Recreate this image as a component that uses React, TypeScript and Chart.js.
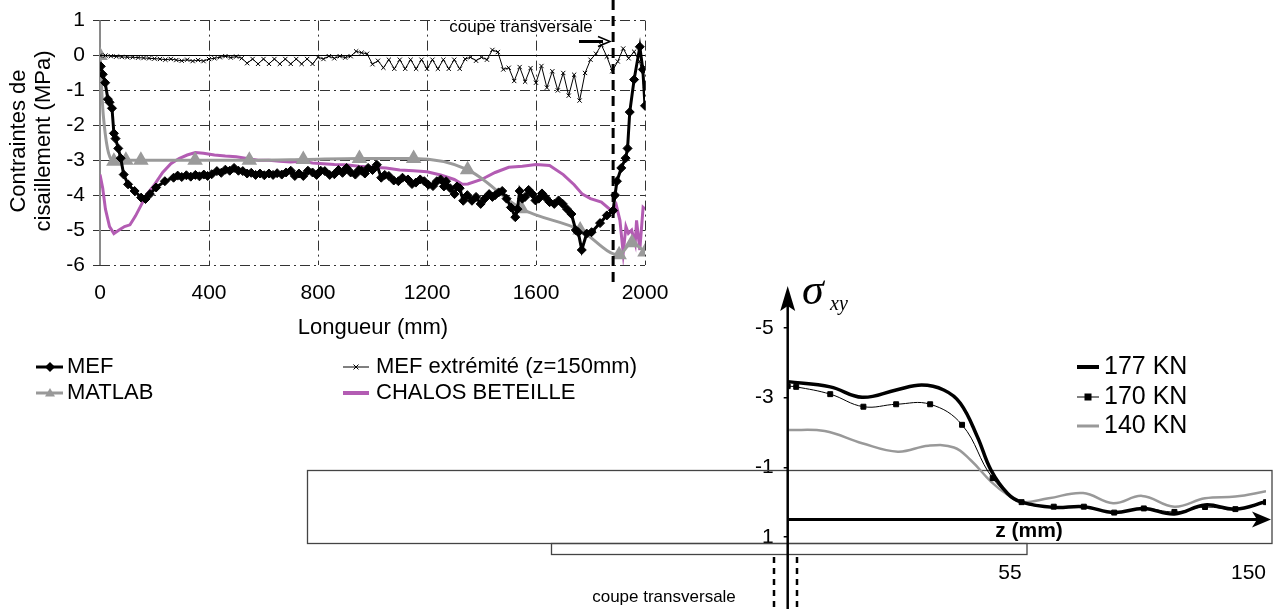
import React, { useEffect, useRef } from "react";
import { Chart, registerables, LinearScale } from "chart.js";

Chart.register(...registerables);

const W = 1274;
const H = 609;
const FONT = '"Liberation Sans", Arial, Helvetica, sans-serif';
const SERIF = '"Liberation Serif", "Times New Roman", serif';

// ---------- Chart 1 : contraintes de cisaillement le long de la poutre ----------
const lengthTicks = [0, 400, 800, 1200, 1600, 2000];
const stressTicks = [-6, -5, -4, -3, -2, -1, 0, 1];
const sectionCutX = 1883; // position of the "coupe transversale" (mm)

const mefX = [3, 10, 19, 29, 35, 44, 51, 57, 67, 76, 87, 103, 127, 151, 167, 183, 206, 238, 270, 285, 300, 317, 333, 350, 365, 381, 395, 410, 429, 445, 460, 476, 492, 508, 524, 540, 555, 571, 587, 603, 620, 635, 650, 667, 683, 700, 715, 730, 746, 763, 780, 795, 810, 825, 843, 860, 875, 890, 905, 920, 937, 950, 960, 972, 984, 1000, 1016, 1032, 1045, 1060, 1078, 1095, 1110, 1130, 1145, 1159, 1175, 1190, 1205, 1222, 1236, 1250, 1262, 1270, 1285, 1301, 1310, 1320, 1333, 1348, 1365, 1380, 1397, 1412, 1428, 1440, 1450, 1463, 1476, 1492, 1508, 1524, 1532, 1540, 1550, 1560, 1573, 1587, 1598, 1610, 1622, 1635, 1650, 1667, 1683, 1698, 1714, 1730, 1746, 1755, 1768, 1786, 1804, 1835, 1860, 1883, 1890, 1897, 1913, 1929, 1936, 1944, 1960, 1981, 1992, 2000];
const mefY = [-0.31, -0.54, -0.78, -1.25, -1.34, -1.51, -2.23, -2.38, -2.66, -2.94, -3.41, -3.69, -3.88, -4.07, -4.11, -3.97, -3.78, -3.6, -3.5, -3.44, -3.48, -3.43, -3.47, -3.42, -3.46, -3.41, -3.45, -3.4, -3.31, -3.36, -3.27, -3.3, -3.22, -3.3, -3.31, -3.38, -3.36, -3.42, -3.38, -3.43, -3.38, -3.42, -3.37, -3.41, -3.35, -3.3, -3.45, -3.38, -3.45, -3.3, -3.35, -3.42, -3.3, -3.31, -3.42, -3.4, -3.28, -3.36, -3.22, -3.35, -3.41, -3.28, -3.3, -3.38, -3.22, -3.28, -3.13, -3.5, -3.42, -3.45, -3.58, -3.6, -3.5, -3.55, -3.68, -3.64, -3.55, -3.6, -3.7, -3.74, -3.6, -3.55, -3.75, -3.6, -3.8, -3.97, -3.75, -3.8, -4.16, -4.0, -4.16, -4.05, -4.25, -4.1, -3.97, -4.05, -4.0, -3.92, -3.88, -4.1, -4.35, -4.63, -4.4, -3.88, -4.1, -4.05, -3.85, -3.97, -4.15, -4.1, -3.95, -4.07, -4.2, -4.25, -4.15, -4.25, -4.4, -4.54, -5.0, -5.06, -5.57, -5.1, -5.06, -4.8, -4.58, -4.44, -4.0, -3.6, -3.22, -2.94, -2.66, -1.62, -0.69, 0.25, -0.4, -1.44];

const extX = [0, 20, 40, 60, 80, 100, 120, 140, 160, 180, 200, 220, 240, 260, 280, 300, 320, 340, 360, 380, 400, 420, 440, 460, 480, 500, 520, 540, 560, 580, 600, 620, 640, 660, 680, 700, 720, 740, 760, 780, 800, 820, 840, 860, 880, 900, 920, 940, 960, 980, 1000, 1020, 1040, 1060, 1080, 1100, 1120, 1140, 1160, 1180, 1200, 1220, 1240, 1260, 1280, 1300, 1320, 1340, 1360, 1380, 1400, 1420, 1440, 1460, 1480, 1500, 1520, 1540, 1560, 1580, 1600, 1620, 1640, 1660, 1680, 1700, 1720, 1740, 1760, 1780, 1800, 1820, 1840, 1860, 1880, 1900, 1920, 1940, 1960, 1980, 2000];
const extY = [0, 0.0, -0.02, -0.03, -0.04, -0.05, -0.05, -0.06, -0.07, -0.08, -0.09, -0.1, -0.12, -0.1, -0.13, -0.15, -0.12, -0.16, -0.13, -0.16, -0.1, -0.08, -0.05, -0.02, -0.06, -0.03, -0.08, -0.22, -0.1, -0.24, -0.1, -0.24, -0.1, -0.24, -0.1, -0.24, -0.1, -0.24, -0.1, -0.24, -0.05, -0.1, -0.02, -0.08, -0.02, -0.06, -0.02, 0.12, 0.08, 0.05, -0.25, -0.15, -0.35, -0.12, -0.38, -0.12, -0.38, -0.12, -0.38, -0.12, -0.38, -0.12, -0.38, -0.12, -0.38, -0.12, -0.38, -0.1, -0.05, -0.15, -0.05, -0.12, 0.16, 0.1, -0.4, -0.35, -0.73, -0.33, -0.75, -0.36, -0.78, -0.3, -0.92, -0.45, -1.0, -0.5, -1.15, -0.55, -1.29, -0.5, -0.12, 0.05, 0.3, -0.03, -0.45, -0.17, 0.2, -0.08, 0.11, -0.17, -0.87];

const matlabX = [0, 12, 51, 95, 150, 349, 548, 746, 952, 1151, 1349, 1547, 1762, 1905, 1952, 2000];
const matlabY = [0, -1.7, -3.03, -3.0, -3.0, -3.0, -3.0, -2.98, -2.95, -2.95, -3.27, -4.39, -5.0, -5.71, -5.36, -5.63];
const matlabMarker = [1, 0, 1, 1, 1, 1, 1, 1, 1, 1, 1, 1, 1, 1, 1, 1];

const chalosX = [0, 10, 20, 35, 51, 70, 90, 110, 130, 150, 170, 200, 230, 260, 290, 320, 350, 380, 420, 460, 500, 540, 580, 620, 660, 700, 740, 780, 820, 860, 900, 950, 1000, 1050, 1100, 1150, 1200, 1250, 1300, 1330, 1350, 1400, 1450, 1500, 1550, 1600, 1650, 1700, 1740, 1770, 1800, 1840, 1870, 1883, 1895, 1908, 1920, 1930, 1939, 1951, 1964, 1969, 1981, 1993, 2000];
const chalosY = [-3.41, -3.8, -4.4, -4.9, -5.1, -5.0, -4.9, -4.85, -4.6, -4.3, -4.0, -3.7, -3.35, -3.1, -2.95, -2.85, -2.78, -2.8, -2.85, -2.88, -2.9, -2.95, -3.0, -3.0, -3.03, -3.05, -3.03, -3.08, -3.1, -3.12, -3.13, -3.17, -3.2, -3.22, -3.28, -3.3, -3.33, -3.42, -3.55, -3.69, -3.68, -3.55, -3.35, -3.2, -3.17, -3.12, -3.15, -3.41, -3.7, -3.97, -4.1, -4.2, -4.4, -4.53, -4.3, -4.72, -5.66, -4.9, -5.09, -5.0, -5.38, -4.72, -5.57, -4.35, -4.4];

// ---------- Chart 2 : sigma_xy le long de z ----------
const sigmaTicks = [-5, -3, -1, 1];
const zTicks = [55, 150];
const Z_BREAK = 55; // the z axis is drawn with a break in scale at 55 mm
const Z_BREAK_FRAC = 0.489;

const z177 = [0, 10, 17.5, 25.5, 31.5, 36.7, 40.6, 44.6, 47.8, 51.7, 55, 67.5, 79.2, 91, 102.5, 114.4, 126.3, 138.1, 150];
const s177 = [-3.46, -3.31, -3.01, -3.22, -3.36, -3.22, -2.84, -1.88, -0.92, -0.25, 0.0, 0.15, 0.13, 0.3, 0.18, 0.34, 0.08, 0.2, -0.01];

const z170 = [0, 2, 10, 17.8, 25.5, 33.5, 41, 48.2, 55, 67.5, 79.2, 91, 102.5, 114.4, 126.3, 138.1, 150];
const s170 = [-3.33, -3.31, -3.1, -2.74, -2.81, -2.81, -2.22, -0.69, 0.0, 0.13, 0.13, 0.3, 0.18, 0.28, 0.14, 0.2, 0.0];

const z140 = [0, 8.7, 17.5, 25.9, 33.1, 39.1, 43, 47.8, 51.7, 55, 65.5, 78.9, 90.6, 101.8, 114.4, 126.3, 138.1, 150];
const s140 = [-2.07, -2.04, -1.69, -1.45, -1.62, -1.57, -1.21, -0.59, -0.21, 0.0, -0.11, -0.26, 0.03, -0.18, 0.13, -0.11, -0.16, -0.31];

const pts = (xs: number[], ys: number[]) => xs.map((x, i) => ({ x, y: ys[i] }));

class BrokenLinearScale extends LinearScale {
  static id = "brokenLinear";
  static defaults = { ...(LinearScale as any).defaults };
  getPixelForValue(value: any) {
    if (value === null || value === undefined || isNaN(value)) return NaN;
    const min = (this as any).min;
    const max = (this as any).max;
    let f: number;
    if (value <= Z_BREAK) f = ((value - min) / (Z_BREAK - min)) * Z_BREAK_FRAC;
    else f = Z_BREAK_FRAC + ((value - Z_BREAK) / (max - Z_BREAK)) * (1 - Z_BREAK_FRAC);
    return (this as any).getPixelForDecimal(f);
  }
  getValueForPixel(pixel: number) {
    const f = (this as any).getDecimalForPixel(pixel);
    const min = (this as any).min;
    const max = (this as any).max;
    if (f <= Z_BREAK_FRAC) return min + (f / Z_BREAK_FRAC) * (Z_BREAK - min);
    return Z_BREAK + ((f - Z_BREAK_FRAC) / (1 - Z_BREAK_FRAC)) * (max - Z_BREAK);
  }
}
Chart.register(BrokenLinearScale as any);

function txt(ctx: CanvasRenderingContext2D, s: string, x: number, y: number, font: string, align: CanvasTextAlign = "left", color = "#000") {
  ctx.save();
  ctx.font = font;
  ctx.fillStyle = color;
  ctx.textAlign = align;
  ctx.textBaseline = "middle";
  ctx.fillText(s, x, y);
  ctx.restore();
}

function line(ctx: CanvasRenderingContext2D, x1: number, y1: number, x2: number, y2: number, color: string, width: number, dash: number[] = []) {
  ctx.save();
  ctx.strokeStyle = color;
  ctx.lineWidth = width;
  ctx.setLineDash(dash);
  ctx.beginPath();
  ctx.moveTo(x1, y1);
  ctx.lineTo(x2, y2);
  ctx.stroke();
  ctx.restore();
}

function marker(ctx: CanvasRenderingContext2D, style: string, x: number, y: number, r: number, color: string) {
  ctx.save();
  ctx.fillStyle = color;
  ctx.strokeStyle = color;
  ctx.lineWidth = 1;
  ctx.beginPath();
  if (style === "diamond") {
    ctx.moveTo(x, y - r); ctx.lineTo(x + r, y); ctx.lineTo(x, y + r); ctx.lineTo(x - r, y); ctx.closePath(); ctx.fill();
  } else if (style === "triangle") {
    ctx.moveTo(x, y - r); ctx.lineTo(x + r, y + r * 0.7); ctx.lineTo(x - r, y + r * 0.7); ctx.closePath(); ctx.fill();
  } else if (style === "cross") {
    ctx.moveTo(x - r, y - r); ctx.lineTo(x + r, y + r); ctx.moveTo(x + r, y - r); ctx.lineTo(x - r, y + r); ctx.stroke();
  } else if (style === "square") {
    ctx.fillRect(x - r, y - r, 2 * r, 2 * r);
  }
  ctx.restore();
}

const dashDot = [10, 4, 2, 4];

const extras1 = {
  id: "extras1",
  beforeDatasetsDraw(chart: any) {
    const { ctx, scales } = chart;
    const x = scales.x, y = scales.y;
    const x0 = x.getPixelForValue(0);
    line(ctx, x0, y.getPixelForValue(1), x0, y.getPixelForValue(-6), "#8a8a8a", 2);
    const yz = y.getPixelForValue(0);
    line(ctx, x0, yz, x.getPixelForValue(2000), yz, "#000", 1.2);
  },
  afterDraw(chart: any) {
    const { ctx, scales } = chart;
    const x = scales.x;
    const xc = x.getPixelForValue(sectionCutX);
    line(ctx, xc, 0, xc, 286, "#000", 3, [10, 6]);
    // section annotation
    txt(ctx, "coupe transversale", 521, 27, `17px ${FONT}`, "center");
    line(ctx, 579, 41.5, 603, 41.5, "#000", 3);
    ctx.save();
    ctx.strokeStyle = "#000";
    ctx.lineWidth = 1.5;
    ctx.beginPath();
    ctx.moveTo(598, 36.5); ctx.lineTo(610, 41.5); ctx.lineTo(598, 46.5);
    ctx.stroke();
    ctx.restore();
    // axis titles
    ctx.save();
    ctx.translate(19, 141);
    ctx.rotate(-Math.PI / 2);
    txt(ctx, "Contraintes de", 0, 0, `22px ${FONT}`, "center");
    ctx.restore();
    ctx.save();
    ctx.translate(44, 141);
    ctx.rotate(-Math.PI / 2);
    txt(ctx, "cisaillement (MPa)", 0, 0, `22px ${FONT}`, "center");
    ctx.restore();
    txt(ctx, "Longueur (mm)", 373, 328, `22px ${FONT}`, "center");
    // legend
    const lf = `22px ${FONT}`;
    line(ctx, 36, 367, 63, 367, "#000", 3);
    marker(ctx, "diamond", 50, 367, 5, "#000");
    txt(ctx, "MEF", 67, 367, lf);
    line(ctx, 36, 393, 63, 393, "#999", 3);
    marker(ctx, "triangle", 50, 393, 5, "#999");
    txt(ctx, "MATLAB", 67, 393, lf);
    line(ctx, 343, 367, 369, 367, "#000", 1);
    marker(ctx, "cross", 356, 367, 2.5, "#000");
    txt(ctx, "MEF extrémité (z=150mm)", 376, 367, lf);
    line(ctx, 343, 393, 369, 393, "#b35cb3", 4);
    txt(ctx, "CHALOS BETEILLE", 376, 393, lf);
  },
};

const extras2 = {
  id: "extras2",
  beforeDatasetsDraw(chart: any) {
    const { ctx } = chart;
    ctx.save();
    ctx.strokeStyle = "#444";
    ctx.lineWidth = 1.3;
    ctx.strokeRect(307.5, 470.5, 964.5, 73);
    ctx.strokeRect(551.5, 543.5, 475.5, 11);
    ctx.restore();
  },
  afterDraw(chart: any) {
    const { ctx, scales } = chart;
    const x = scales.x, y = scales.y;
    const x0 = x.getPixelForValue(0);
    // sigma axis with arrow
    line(ctx, x0, 300, x0, H, "#000", 2.5);
    ctx.save();
    ctx.fillStyle = "#000";
    ctx.beginPath();
    ctx.moveTo(x0, 286); ctx.lineTo(x0 + 7.5, 311); ctx.lineTo(x0, 306); ctx.lineTo(x0 - 7.5, 311); ctx.closePath();
    ctx.fill();
    ctx.restore();
    // dashed section lines
    line(ctx, 774, 557, 774, H, "#000", 2.5, [6, 5]);
    line(ctx, 797, 557, 797, H, "#000", 2.5, [6, 5]);
    // z axis arrow
    const yz = y.getPixelForValue(0.5);
    const xe = chart.chartArea.right + 5;
    line(ctx, x0, yz, xe - 12, yz, "#000", 3);
    ctx.save();
    ctx.fillStyle = "#000";
    ctx.beginPath();
    ctx.moveTo(xe, yz); ctx.lineTo(xe - 19, yz - 8); ctx.lineTo(xe - 14, yz); ctx.lineTo(xe - 19, yz + 8); ctx.closePath();
    ctx.fill();
    ctx.restore();
    txt(ctx, "z (mm)", 1029, 531, `bold 21px ${FONT}`, "center");
    // sigma label
    ctx.save();
    ctx.fillStyle = "#000";
    ctx.textBaseline = "alphabetic";
    ctx.font = `italic 44px ${SERIF}`;
    ctx.fillText("\u03c3", 802, 304);
    ctx.font = `italic 20px ${SERIF}`;
    ctx.fillText("xy", 830, 310);
    ctx.restore();
    txt(ctx, "coupe transversale", 664, 597, `17px ${FONT}`, "center");
    // legend
    const lf = `25px ${FONT}`;
    line(ctx, 1077, 367, 1099, 367, "#000", 4);
    txt(ctx, "177 KN", 1104, 367, lf);
    line(ctx, 1077, 397, 1099, 397, "#000", 1);
    marker(ctx, "square", 1088, 397, 3.5, "#000");
    txt(ctx, "170 KN", 1104, 397, lf);
    line(ctx, 1077, 426, 1099, 426, "#999", 3);
    txt(ctx, "140 KN", 1104, 426, lf);
  },
};

function config1(): any {
  return {
    type: "line",
    data: {
      datasets: [
        { label: "MEF", data: pts(mefX, mefY), borderColor: "#000", backgroundColor: "#000", borderWidth: 3, pointStyle: "rectRot", pointRadius: 4.5, pointBorderWidth: 1, pointBorderColor: "#000", pointBackgroundColor: "#000" },
        { label: "MEF extrémité (z=150mm)", data: pts(extX, extY), borderColor: "#000", borderWidth: 1, pointStyle: "crossRot", pointRadius: 3, pointBorderWidth: 1, pointBorderColor: "#000" },
        { label: "MATLAB", data: pts(matlabX, matlabY), borderColor: "#9a9a9a", backgroundColor: "#9a9a9a", borderWidth: 3, pointStyle: "triangle", pointRadius: matlabMarker.map((m) => (m ? 6 : 0)), pointBorderColor: "#9a9a9a", pointBackgroundColor: "#9a9a9a", cubicInterpolationMode: "monotone" },
        { label: "CHALOS BETEILLE", data: pts(chalosX, chalosY), borderColor: "#b35cb3", borderWidth: 3, pointRadius: 0 },
      ],
    },
    options: {
      animation: false,
      responsive: false,
      devicePixelRatio: 1,
      layout: { padding: { left: 0, top: 16.7, right: W - 645, bottom: H - 265 - 40 } },
      plugins: { legend: { display: false }, tooltip: { enabled: false } },
      scales: {
        x: {
          type: "linear", min: 0, max: 2000,
          afterBuildTicks: (s: any) => { s.ticks = lengthTicks.map((v) => ({ value: v })); },
          afterFit: (s: any) => { s.height = 40; },
          grid: { color: (c: any) => (c.index === 0 ? "rgba(0,0,0,0)" : "#333"), drawTicks: false, lineWidth: 1 },
          border: { display: false, dash: dashDot },
          ticks: { font: { family: FONT, size: 21 }, color: "#000", padding: 16, maxRotation: 0, autoSkip: false, callback: (v: any) => String(v) },
        },
        y: {
          type: "linear", min: -6, max: 1,
          afterBuildTicks: (s: any) => { s.ticks = stressTicks.map((v) => ({ value: v })); },
          afterFit: (s: any) => { s.width = 100; },
          grid: { color: "#333", lineWidth: 1, tickLength: 7 },
          border: { display: false, dash: dashDot },
          ticks: { font: { family: FONT, size: 21 }, color: "#000", padding: 8, callback: (v: any) => String(v) },
        },
      },
    },
    plugins: [extras1],
  };
}

function config2(): any {
  return {
    type: "line",
    data: {
      datasets: [
        { label: "177 KN", data: pts(z177, s177), borderColor: "#000", borderWidth: 3.5, pointRadius: 0, tension: 0.4 },
        { label: "170 KN", data: pts(z170, s170), borderColor: "#000", borderWidth: 1, pointStyle: "rect", pointRadius: 3.5, pointBackgroundColor: "#000", pointBorderColor: "#000", tension: 0.4 },
        { label: "140 KN", data: pts(z140, s140), borderColor: "#999", borderWidth: 2.5, pointRadius: 0, tension: 0.4 },
      ],
    },
    options: {
      animation: false,
      responsive: false,
      devicePixelRatio: 1,
      layout: { padding: { left: 0, top: 290, right: W - 1268, bottom: 0 } },
      plugins: { legend: { display: false }, tooltip: { enabled: false } },
      scales: {
        x: {
          type: "brokenLinear", min: 0, max: 150,
          afterBuildTicks: (s: any) => { s.ticks = zTicks.map((v) => ({ value: v })); },
          afterFit: (s: any) => { s.height = H - 545; },
          grid: { display: false },
          border: { display: false },
          ticks: { font: { family: FONT, size: 21 }, color: "#000", padding: 8, align: "end", maxRotation: 0, autoSkip: false, callback: (v: any) => String(v) },
        },
        y: {
          type: "linear", reverse: true, min: -6.09, max: 1.23,
          afterBuildTicks: (s: any) => { s.ticks = sigmaTicks.map((v) => ({ value: v })); },
          afterFit: (s: any) => { s.width = 787.7; },
          grid: { drawOnChartArea: false, tickLength: 4, color: "#000", lineWidth: 1.5 },
          border: { display: false },
          ticks: { font: { family: FONT, size: 21 }, color: "#000", padding: 10, callback: (v: any) => String(v) },
        },
      },
    },
    plugins: [extras2],
  };
}

export default function App() {
  const r1 = useRef<HTMLCanvasElement>(null);
  const r2 = useRef<HTMLCanvasElement>(null);
  useEffect(() => {
    const c1 = new Chart(r1.current as HTMLCanvasElement, config1());
    const c2 = new Chart(r2.current as HTMLCanvasElement, config2());
    return () => {
      c1.destroy();
      c2.destroy();
    };
  }, []);
  return (
    <div style={{ position: "absolute", left: 0, top: 0, width: W, height: H, background: "#fff", overflow: "hidden" }}>
      <canvas ref={r1} width={W} height={H} style={{ position: "absolute", left: 0, top: 0, width: W, height: H }} />
      <canvas ref={r2} width={W} height={H} style={{ position: "absolute", left: 0, top: 0, width: W, height: H }} />
    </div>
  );
}
